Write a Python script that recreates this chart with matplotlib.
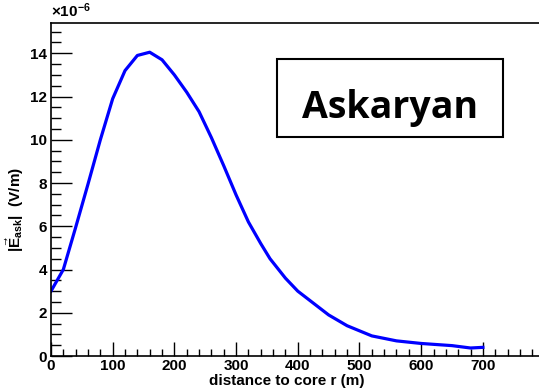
import matplotlib.pyplot as plt
from matplotlib.patches import Rectangle
from matplotlib.ticker import MultipleLocator

plt.rcParams['font.family'] = ['Liberation Sans', 'DejaVu Sans']
plt.rcParams['font.weight'] = 'bold'
plt.rcParams['mathtext.fontset'] = 'custom'
plt.rcParams['mathtext.rm'] = 'Liberation Sans:bold'
plt.rcParams['mathtext.bf'] = 'Liberation Sans:bold'
plt.rcParams['mathtext.it'] = 'Liberation Sans:bold'

# radial profile of the Askaryan field amplitude, in units of 1e-6 V/m
r = [0, 20, 40, 60, 80, 100, 120, 140, 160, 180, 200, 220, 240, 260, 280,
     300, 320, 340, 355, 380, 400, 450, 480, 520, 560, 600, 650, 680, 700]
e_ask = [3.0, 4.0, 5.95, 7.95, 10.0, 11.9, 13.2, 13.9, 14.05, 13.7, 13.0,
         12.2, 11.3, 10.1, 8.8, 7.45, 6.2, 5.2, 4.5, 3.6, 3.0, 1.9, 1.4,
         0.93, 0.7, 0.58, 0.48, 0.37, 0.4]

fig = plt.figure(figsize=(5.39, 3.91), dpi=100)
ax = fig.add_axes([0.0946, 0.0895, 0.9054, 0.8516])

ax.plot(r, e_ask, color='#0000ff', lw=2.3)

ax.set_xlim(0, 791)
ax.set_ylim(0, 15.4)
ax.xaxis.set_major_locator(MultipleLocator(100))
ax.xaxis.set_minor_locator(MultipleLocator(20))
ax.yaxis.set_major_locator(MultipleLocator(2))
ax.yaxis.set_minor_locator(MultipleLocator(0.5))
ax.tick_params(which='both', direction='in', width=1, top=False, right=False,
               labelsize=11)
ax.tick_params(axis='x', which='major', length=10, pad=2)
ax.tick_params(axis='x', which='minor', length=5)
ax.tick_params(axis='y', which='major', length=15, pad=3)
ax.tick_params(axis='y', which='minor', length=7)
for lab in ax.get_xticklabels() + ax.get_yticklabels():
    lab.set_fontweight('bold')
ax.spines['right'].set_visible(False)
for s in ('left', 'bottom', 'top'):
    ax.spines[s].set_linewidth(1.2)

ax.set_xlabel('distance to core r (m)', fontsize=11, fontweight='bold')
ax.xaxis.set_label_coords(0.484, -0.055)
ax.set_ylabel(r'$|\vec{E}_{ask}|$  (V/m)', fontsize=11, fontweight='bold')
ax.yaxis.set_label_coords(-0.052, 0.44)

ax.text(0.0, 1.008, r'$\times$10$^{-6}$', transform=ax.transAxes,
        fontsize=11, fontweight='bold', ha='left', va='bottom')

# legend-style label box
fig.patches.append(Rectangle((0.514, 0.650), 0.419, 0.199,
                             transform=fig.transFigure, fc='white',
                             ec='black', lw=1.5, zorder=5))
fig.text(0.7236, 0.698, 'Askaryan', fontsize=27, fontweight='bold',
         family='Open Sans', ha='center', va='baseline', zorder=6)

fig.savefig('out.png', dpi=100)
